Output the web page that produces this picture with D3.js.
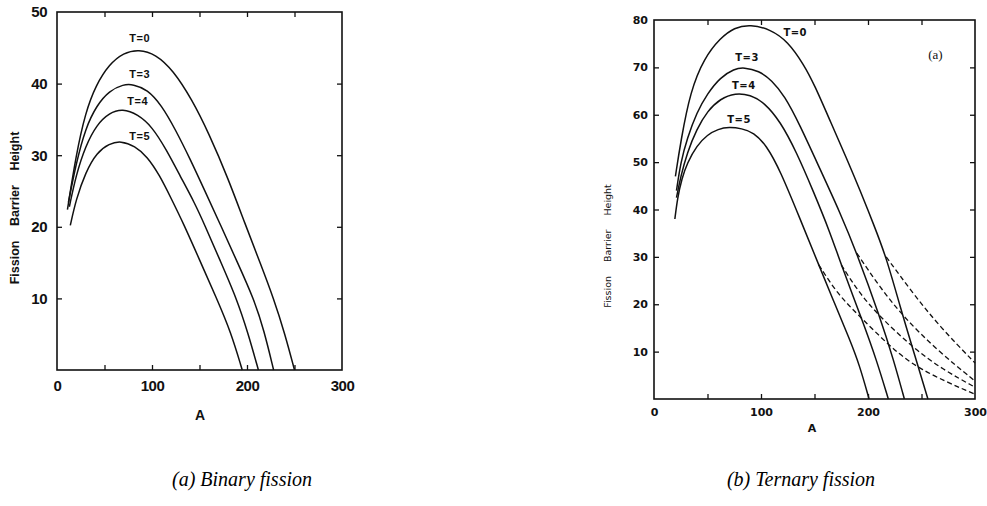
<!DOCTYPE html>
<html>
<head>
<meta charset="utf-8">
<script src="https://cdn.jsdelivr.net/npm/d3@7"></script>
<style>
  body { margin: 0; background: #fff; }
  svg { display: block; }
</style>
</head>
<body>
<script>
// ---- data: [A, barrier height] ----
// (a) binary fission
const binT0 = [[11, 22.4], [20, 30], [30, 36], [41, 39.8], [55, 42.7], [70, 44.3], [86, 44.8], [104, 44.1], [122, 41.9], [142, 37.8], [160, 33], [180, 26.8], [198, 20.4], [214, 14.9], [228, 10], [240, 5], [250, 0]];
const binT3 = [[12, 23.4], [20, 28.8], [30, 33.8], [42, 37], [55, 39], [70, 39.9], [80, 39.9], [95, 39.2], [110, 37], [125, 33.5], [140, 29.5], [155, 25.2], [173, 20], [190, 15], [207, 10], [218, 5.5], [228, 0]];
const binT4 = [[13, 22.8], [20, 27.2], [30, 31.3], [42, 34.3], [55, 35.9], [69, 36.5], [85, 35.7], [100, 34], [115, 30.8], [130, 27], [145, 23.3], [155, 20.4], [172, 15.2], [189, 10], [201, 5.2], [212, 0]];
const binT5 = [[14, 20.2], [20, 23.8], [30, 27.6], [42, 30.4], [55, 31.6], [67, 32], [82, 31.3], [95, 29.8], [108, 27.2], [120, 24], [133, 20.5], [150, 15.4], [168, 10], [183, 5.3], [195, 0]];
const binLabels = [["T=0", 87, 46.3], ["T=3", 87, 41.3], ["T=4", 85, 37.5], ["T=5", 87, 32.6]];

// (b) ternary fission, solid branches
const terT0 = [[20, 47], [25, 54.4], [34, 65], [47, 72], [62, 76.2], [75, 78.4], [90, 79.1], [109, 78], [125, 75.5], [140, 70.6], [150, 66.3], [165, 58.5], [180, 50.8], [193, 43.8], [205, 37], [217, 30], [230, 19.5], [242, 10.5], [256, 0]];
const terT3 = [[21, 44], [25, 50], [31, 55], [40, 60.5], [50, 64.5], [62, 67.9], [75, 69.7], [84, 70], [98, 69.3], [110, 67.3], [122, 64], [136, 58], [155, 48.6], [174, 39.3], [189.5, 30.8], [211, 17.4], [224, 8.2], [234, 0]];
const terT4 = [[21, 42.5], [25, 47], [31, 52], [40, 57], [50, 60.8], [62, 63.4], [76, 64.6], [90, 64.2], [103, 62.6], [118, 58.6], [133, 52.2], [149, 43.8], [164.5, 35.2], [175, 28.3], [196, 15.8], [208, 8.2], [219, 0]];
const terT5 = [[19.5, 38], [22, 42.5], [26, 46.5], [31, 49.8], [40, 53.5], [50, 55.8], [60, 57], [70, 57.4], [82, 57.1], [93, 56.3], [105, 53.6], [118, 48.2], [136, 38.3], [154, 28.3], [168, 20.6], [183, 12.5], [192, 7.2], [201, 0]];
// ternary fission, dashed branches
const terT0d = [[217, 30], [242, 22.3], [267, 15.3], [300, 7.6]];
const terT3d = [[189.5, 30.8], [211, 23.6], [233, 17.4], [264, 10.4], [300, 3.8]];
const terT4d = [[175, 28.3], [192, 22.3], [211, 17.4], [241, 11], [270, 6.2], [300, 2.5]];
const terT5d = [[154, 28.3], [172, 22], [192.5, 17.4], [219, 11.4], [247, 6.2], [300, 1]];
const terLabels = [["T=0", 132, 77.4], ["T=3", 87, 72], ["T=4", 84, 66.2], ["T=5", 79.5, 59]];

// ticks
const xMinor = [50, 100, 150, 200, 250];
const xTickLabels = [0, 100, 200, 300];
const binYMinor = [10, 20, 30, 40];
const binYLabels = [10, 20, 30, 40, 50];
const terYMinor = [10, 20, 30, 40, 50, 60, 70];
const terYLabels = [10, 20, 30, 40, 50, 60, 70, 80];

const width = 987, height = 506;
const svg = d3.select("body").append("svg").attr("width", width).attr("height", height).style("background", "#ffffff");

const panel = (o) => {
  const g = svg.append("g");
  const x = d3.scaleLinear().domain([0, 300]).range([o.left, o.right]);
  const y = d3.scaleLinear().domain([0, o.ymax]).range([o.bottom, o.top]);

  // inward ticks on all four sides
  const sides = [
    [d3.axisBottom(x).tickValues(xMinor), `translate(0,${o.bottom})`],
    [d3.axisTop(x).tickValues(xMinor), `translate(0,${o.top})`],
    [d3.axisLeft(y).tickValues(o.yMinor), `translate(${o.left},0)`],
    [d3.axisRight(y).tickValues(o.yMinor), `translate(${o.right},0)`]
  ];
  sides.forEach(([ax, tr]) => {
    const a = g.append("g").attr("transform", tr).call(ax.tickSize(-o.tick).tickFormat(""));
    a.select(".domain").remove();
    a.selectAll("line").attr("stroke", "#111").attr("stroke-width", 1.3);
  });

  // frame
  g.append("rect").attr("x", o.left).attr("y", o.top)
    .attr("width", o.right - o.left).attr("height", o.bottom - o.top)
    .attr("fill", "none").attr("stroke", "#111").attr("stroke-width", 1.6);

  // tick labels
  const yl = g.append("g").attr("transform", `translate(${o.left},0)`)
    .call(d3.axisLeft(y).tickValues(o.yLabels).tickSize(0).tickPadding(o.yPad));
  const xl = g.append("g").attr("transform", `translate(0,${o.bottom})`)
    .call(d3.axisBottom(x).tickValues(xTickLabels).tickSize(0).tickPadding(o.xPad));
  [yl, xl].forEach(a => {
    a.select(".domain").remove();
    a.selectAll("text").attr("font-family", o.font).attr("font-size", o.tickFont)
      .attr("font-weight", "bold").attr("fill", "#111").attr("letter-spacing", o.tickSpacing);
  });

  // axis titles
  g.append("text").attr("x", o.aX).attr("y", o.aY).attr("text-anchor", "middle")
    .attr("font-family", o.font).attr("font-weight", "bold").attr("font-size", o.titleFont)
    .attr("fill", "#111").text("A");
  g.append("text").attr("transform", `translate(${o.yTitleX},${o.yTitleY}) rotate(-90)`)
    .attr("text-anchor", "middle").attr("font-family", o.font).attr("font-weight", o.yTitleWeight)
    .attr("font-size", o.yTitleFont).attr("fill", "#111").attr("word-spacing", o.yTitleWordSpacing)
    .text("Fission Barrier Height");

  // curves (smoothed, the originals are hand-traced smooth lines)
  const line = d3.line().x(d => x(d[0])).y(d => y(d[1])).curve(d3.curveBasis);
  o.solid.forEach(s => {
    g.append("path").attr("d", line(s)).attr("fill", "none").attr("stroke", "#111").attr("stroke-width", 1.5);
  });
  o.dashed.forEach(s => {
    g.append("path").attr("d", line(s)).attr("fill", "none").attr("stroke", "#111")
      .attr("stroke-width", 1.3).attr("stroke-dasharray", "5,3");
  });

  // curve labels
  g.selectAll(".tlab").data(o.labels).enter().append("text").attr("class", "tlab")
    .attr("x", d => x(d[1])).attr("y", d => y(d[2])).attr("dy", "0.35em")
    .attr("text-anchor", "middle").attr("font-family", o.font).attr("font-weight", "bold")
    .attr("font-size", o.labelFont).attr("letter-spacing", 0.5).attr("fill", "#111")
    .text(d => d[0]);
  return { g, x, y };
};

// (a) binary fission
panel({
  left: 57, right: 342, top: 12, bottom: 370, ymax: 50, tick: 5,
  yMinor: binYMinor, yLabels: binYLabels, yPad: 10, xPad: 10,
  font: "Liberation Sans Narrow, Liberation Sans, Arial", tickFont: 15, tickSpacing: -0.5,
  aX: 200, aY: 420, titleFont: 14,
  yTitleX: 19, yTitleY: 208, yTitleFont: 12.5, yTitleWeight: "bold", yTitleWordSpacing: 11,
  solid: [binT0, binT3, binT4, binT5], dashed: [], labels: binLabels, labelFont: 11
});

// (b) ternary fission
const ter = panel({
  left: 654, right: 975, top: 20, bottom: 399, ymax: 80, tick: 5,
  yMinor: terYMinor, yLabels: terYLabels, yPad: 6, xPad: 9,
  font: "DejaVu Sans", tickFont: 11, tickSpacing: 0,
  aX: 812, aY: 432, titleFont: 11,
  yTitleX: 611, yTitleY: 246, yTitleFont: 9.5, yTitleWeight: "normal", yTitleWordSpacing: 11,
  solid: [terT0, terT3, terT4, terT5], dashed: [terT0d, terT3d, terT4d, terT5d],
  labels: terLabels, labelFont: 10
});
ter.g.append("text").attr("x", ter.x(263)).attr("y", ter.y(72.7)).attr("dy", "0.35em")
  .attr("text-anchor", "middle").attr("font-family", "Liberation Serif, DejaVu Serif")
  .attr("font-size", 13).attr("fill", "#111").text("(a)");

// captions
const captions = [["(a) Binary fission", 242], ["(b) Ternary fission", 801]];
svg.selectAll(".cap").data(captions).enter().append("text").attr("class", "cap")
  .attr("x", d => d[1]).attr("y", 486).attr("text-anchor", "middle")
  .attr("font-family", "Liberation Serif, Times New Roman, serif").attr("font-style", "italic")
  .attr("font-size", 20).attr("fill", "#000").text(d => d[0]);
</script>
</body>
</html>
